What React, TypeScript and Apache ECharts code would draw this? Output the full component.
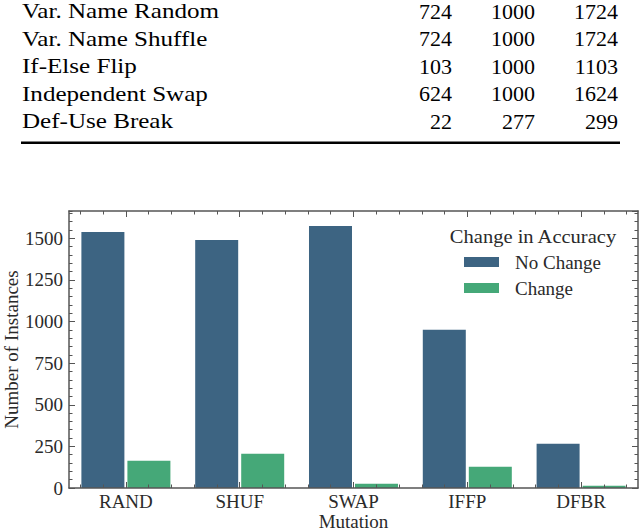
import React, { useEffect, useRef } from "react";
import * as echarts from "echarts";

const tableLabels = ["Var. Name Random", "Var. Name Shuffle", "If-Else Flip", "Independent Swap", "Def-Use Break"];
const tableCol1 = [724, 724, 103, 624, 22];
const tableCol2 = [1000, 1000, 1000, 1000, 277];
const tableCol3 = [1724, 1724, 1103, 1624, 299];

const categories = ["RAND", "SHUF", "SWAP", "IFFP", "DFBR"];
const noChange = [1538, 1490, 1574, 950, 266];
const change = [164, 206, 26, 128, 14];
const seriesNames = ["No Change", "Change"];
const legendTitle = "Change in Accuracy";
const yMax = 1664;
const yMajorStep = 250;
const yMinorStep = 50;
// 25 sub-slots (0.2 of a category each) whose centres carry the x ticks
const xTickSlots = Array.from({ length: 25 }, (_, i) => String(i));

const FONT = "Liberation Serif, DejaVu Serif, serif";
const AXIS_COLOR = "#555";
const TEXT_COLOR = "#2a2a2a";
const C_NO = "#3d6482";
const C_CH = "#45a878";

export default function App() {
  const ref = useRef<HTMLDivElement>(null);
  useEffect(() => {
    document.body.style.margin = "0";
    const chart = echarts.init(ref.current!, null, { renderer: "svg" });

    const rowY = [11, 38.5, 66, 93.5, 121];
    const txt = (text: string, x: number, y: number, align: string, size: number, fill: string, sx = 1) => ({
      type: "text",
      x,
      y,
      scaleX: sx,
      style: {
        legacy: false,
        text,
        fontFamily: FONT,
        fontSize: size,
        fill,
        align,
        verticalAlign: "middle",
      },
    });
    const graphics: any[] = [];
    tableLabels.forEach((lab, i) => {
      graphics.push(txt(lab, 22, rowY[i], "left", 22, "#000", 1.14));
      graphics.push(txt(String(tableCol1[i]), 452, rowY[i], "right", 22, "#000"));
      graphics.push(txt(String(tableCol2[i]), 535, rowY[i], "right", 22, "#000"));
      graphics.push(txt(String(tableCol3[i]), 618, rowY[i], "right", 22, "#000"));
    });
    graphics.push({
      type: "line",
      shape: { x1: 21, y1: 142.7, x2: 620, y2: 142.7 },
      style: { stroke: "#000", lineWidth: 2.4 },
    });
    graphics.push(txt(legendTitle, 533, 236, "center", 19, TEXT_COLOR, 1.08));

    const tickAxisX = (position: string, major: boolean, line: boolean) => ({
      type: "category",
      data: xTickSlots,
      position,
      z: 5,
      axisLine: { show: line, onZero: false, lineStyle: { color: AXIS_COLOR, width: 1.5 } },
      axisTick: {
        show: true,
        inside: true,
        alignWithLabel: true,
        length: major ? 6 : 3.5,
        interval: major ? (i: number) => i % 5 === 2 : 0,
        lineStyle: { color: AXIS_COLOR, width: 1 },
      },
      axisLabel: { show: false },
      splitLine: { show: false },
    });
    const tickAxisY = (position: string, step: number, len: number, line: boolean, labels: boolean) => ({
      type: "value",
      position,
      min: 0,
      max: yMax,
      interval: step,
      z: 5,
      axisLine: { show: line, onZero: false, lineStyle: { color: AXIS_COLOR, width: 1.5 } },
      axisTick: { show: true, inside: true, length: len, lineStyle: { color: AXIS_COLOR, width: 1 } },
      axisLabel: labels
        ? {
            show: true,
            showMaxLabel: false,
            margin: 6,
            fontFamily: FONT,
            fontSize: 19,
            color: TEXT_COLOR,
            formatter: (v: number) => (v % yMajorStep === 0 ? String(v) : ""),
          }
        : { show: false },
      splitLine: { show: false },
    });

    const yMain: any = tickAxisY("left", yMajorStep, 6, true, true);
    yMain.name = "Number of Instances";
    yMain.nameLocation = "middle";
    yMain.nameGap = 48;
    yMain.nameMoveOverlap = false;
    yMain.nameTextStyle = { fontFamily: FONT, fontSize: 19, color: TEXT_COLOR };

    const option: any = {
      animation: false,
      backgroundColor: "#fff",
      textStyle: { fontFamily: FONT },
      grid: { left: 69, right: 2, top: 211, bottom: 44, containLabel: false, outerBoundsMode: "none" },
      legend: {
        orient: "vertical",
        left: 464,
        top: 252,
        itemWidth: 35,
        itemHeight: 10,
        itemGap: 6,
        padding: 0,
        icon: "rect",
        data: seriesNames,
        textStyle: { fontFamily: FONT, fontSize: 19, color: TEXT_COLOR, lineHeight: 20, padding: [0, 0, 0, 11] },
      },
      xAxis: [
        {
          type: "category",
          data: categories,
          position: "bottom",
          z: 5,
          axisLine: { show: true, lineStyle: { color: AXIS_COLOR, width: 1.5 } },
          axisTick: { show: false },
          axisLabel: { margin: 4, fontFamily: FONT, fontSize: 19, color: TEXT_COLOR },
          name: "Mutation",
          nameLocation: "middle",
          nameGap: 24,
          nameMoveOverlap: false,
          nameTextStyle: { fontFamily: FONT, fontSize: 19, color: TEXT_COLOR },
        },
        tickAxisX("bottom", true, false),
        tickAxisX("bottom", false, false),
        tickAxisX("top", true, true),
        tickAxisX("top", false, false),
      ],
      yAxis: [
        yMain,
        tickAxisY("left", yMinorStep, 3.5, false, false),
        tickAxisY("right", yMajorStep, 6, true, false),
        tickAxisY("right", yMinorStep, 3.5, false, false),
      ],
      series: [
        {
          name: seriesNames[0],
          type: "bar",
          data: noChange,
          barWidth: 43,
          barGap: "7%",
          itemStyle: { color: C_NO },
          xAxisIndex: 0,
          yAxisIndex: 0,
        },
        {
          name: seriesNames[1],
          type: "bar",
          data: change,
          barWidth: 43,
          barGap: "7%",
          itemStyle: { color: C_CH },
          xAxisIndex: 0,
          yAxisIndex: 0,
        },
      ],
      graphic: graphics,
    };
    chart.setOption(option);
    return () => chart.dispose();
  }, []);
  return <div ref={ref} style={{ width: 640, height: 532 }} />;
}
